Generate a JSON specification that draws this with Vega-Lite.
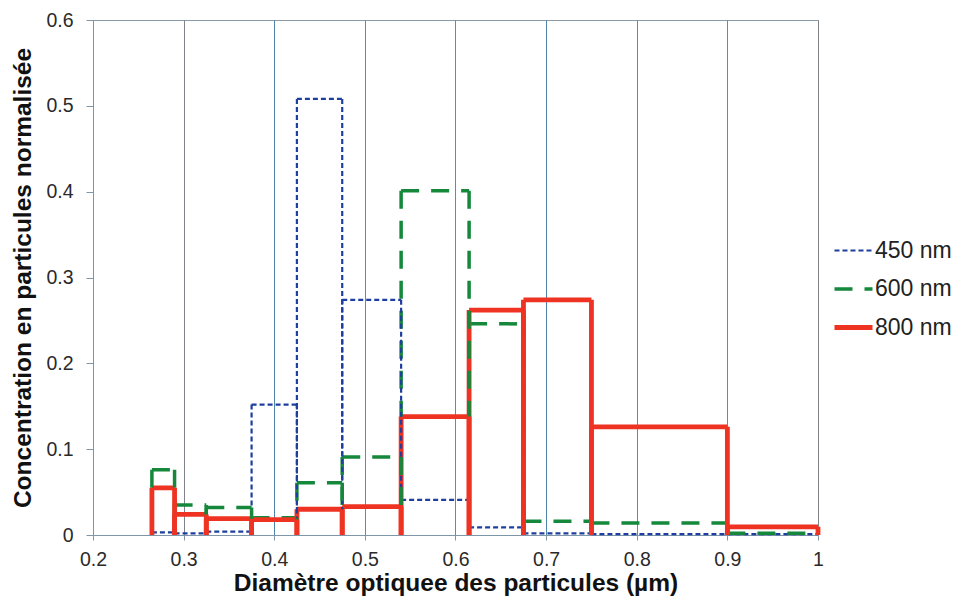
{
  "$schema": "https://vega.github.io/schema/vega-lite/v6.json",
  "autosize": "none",
  "width": 725,
  "height": 515,
  "padding": {"left": 93, "top": 20, "right": 140, "bottom": 67},
  "background": "white",
  "config": {
    "font": "Liberation Sans",
    "view": {"stroke": "#8a9aa8", "strokeWidth": 1},
    "axis": {
      "labelFont": "Liberation Sans",
      "titleFont": "Liberation Sans",
      "labelFontSize": 19.5,
      "labelColor": "#2a2a2a",
      "titleFontSize": 24.5,
      "titleFontWeight": "bold",
      "titleColor": "#111111",
      "domainColor": "#7f96a8",
      "tickColor": "#7f96a8",
      "tickSize": 6,
      "labelFlush": false,
      "labelOverlap": false
    },
    "legend": {
      "labelFont": "Liberation Sans",
      "labelFontSize": 23,
      "labelColor": "#222222"
    }
  },
  "data": {
    "values": [
      {"series": "450 nm", "x0": 0.265, "x1": 0.29, "value": 0.003},
      {"series": "450 nm", "x0": 0.29, "x1": 0.325, "value": 0.002},
      {"series": "450 nm", "x0": 0.325, "x1": 0.375, "value": 0.004},
      {"series": "450 nm", "x0": 0.375, "x1": 0.425, "value": 0.152},
      {"series": "450 nm", "x0": 0.425, "x1": 0.475, "value": 0.508},
      {"series": "450 nm", "x0": 0.475, "x1": 0.54, "value": 0.274},
      {"series": "450 nm", "x0": 0.54, "x1": 0.615, "value": 0.041},
      {"series": "450 nm", "x0": 0.615, "x1": 0.675, "value": 0.009},
      {"series": "450 nm", "x0": 0.675, "x1": 0.75, "value": 0.002},
      {"series": "450 nm", "x0": 0.75, "x1": 0.9, "value": 0.001},
      {"series": "450 nm", "x0": 0.9, "x1": 1.0, "value": 0.001},
      {"series": "600 nm", "x0": 0.265, "x1": 0.29, "value": 0.076},
      {"series": "600 nm", "x0": 0.29, "x1": 0.325, "value": 0.035},
      {"series": "600 nm", "x0": 0.325, "x1": 0.375, "value": 0.032},
      {"series": "600 nm", "x0": 0.375, "x1": 0.425, "value": 0.02},
      {"series": "600 nm", "x0": 0.425, "x1": 0.475, "value": 0.061},
      {"series": "600 nm", "x0": 0.475, "x1": 0.54, "value": 0.091},
      {"series": "600 nm", "x0": 0.54, "x1": 0.615, "value": 0.401},
      {"series": "600 nm", "x0": 0.615, "x1": 0.675, "value": 0.246},
      {"series": "600 nm", "x0": 0.675, "x1": 0.75, "value": 0.016},
      {"series": "600 nm", "x0": 0.75, "x1": 0.9, "value": 0.014},
      {"series": "600 nm", "x0": 0.9, "x1": 1.0, "value": 0.002},
      {"series": "800 nm", "x0": 0.265, "x1": 0.29, "value": 0.055},
      {"series": "800 nm", "x0": 0.29, "x1": 0.325, "value": 0.024},
      {"series": "800 nm", "x0": 0.325, "x1": 0.375, "value": 0.019},
      {"series": "800 nm", "x0": 0.375, "x1": 0.425, "value": 0.018},
      {"series": "800 nm", "x0": 0.425, "x1": 0.475, "value": 0.03},
      {"series": "800 nm", "x0": 0.475, "x1": 0.54, "value": 0.033},
      {"series": "800 nm", "x0": 0.54, "x1": 0.615, "value": 0.138},
      {"series": "800 nm", "x0": 0.615, "x1": 0.675, "value": 0.262},
      {"series": "800 nm", "x0": 0.675, "x1": 0.75, "value": 0.274},
      {"series": "800 nm", "x0": 0.75, "x1": 0.9, "value": 0.126},
      {"series": "800 nm", "x0": 0.9, "x1": 1.0, "value": 0.0095}
    ]
  },
  "encoding": {
    "stroke": {
      "field": "series", "type": "nominal", "title": null,
      "scale": {"domain": ["450 nm", "600 nm", "800 nm"], "range": ["#1f3f9e", "#15883c", "#ef3323"]},
      "legend": {"orient": "none", "legendX": 739, "legendY": 210, "symbolType": "stroke", "symbolSize": 1444, "rowPadding": 5, "labelOffset": 0}
    },
    "strokeDash": {
      "field": "series", "type": "nominal", "title": null,
      "scale": {"domain": ["450 nm", "600 nm", "800 nm"], "range": [[5, 3], [18, 12], [1, 0]]}
    },
    "strokeWidth": {
      "field": "series", "type": "ordinal", "title": null,
      "scale": {"domain": ["450 nm", "600 nm", "800 nm"], "range": [2.2, 4.8, 5.5]}
    }
  },
  "layer": [
    {
      "mark": {"type": "rule", "strokeCap": "butt"},
      "encoding": {
        "x": {
          "field": "x0", "type": "quantitative",
          "scale": {"domain": [0.2, 1.0], "nice": false, "zero": false},
          "axis": {
            "title": "Diamètre optiquee des particules (µm)",
            "values": [0.2, 0.3, 0.4, 0.5, 0.6, 0.7, 0.8, 0.9, 1.0],
            "format": "~g",
            "grid": true,
            "gridColor": {"condition": {"test": "abs(datum.value - 0.4) < 0.001 || abs(datum.value - 0.7) < 0.001", "value": "#4f86ad"}, "value": "#7f8389"},
            "gridOpacity": 1,
            "gridWidth": 1,
            "tickSize": 5,
            "labelPadding": 10,
            "titlePadding": 3
          }
        },
        "x2": {"field": "x1"},
        "y": {
          "field": "value", "type": "quantitative",
          "scale": {"domain": [0, 0.6], "nice": false},
          "axis": {
            "title": "Concentration en particules normalisée",
            "values": [0, 0.1, 0.2, 0.3, 0.4, 0.5, 0.6],
            "format": "~g",
            "grid": false,
            "tickSize": 7,
            "labelPadding": 13,
            "titlePadding": 10
          }
        }
      }
    },
    {
      "mark": {"type": "rule", "strokeCap": "butt"},
      "encoding": {
        "x": {"field": "x0", "type": "quantitative"},
        "y": {"field": "value", "type": "quantitative"},
        "y2": {"datum": 0}
      }
    },
    {
      "mark": {"type": "rule", "strokeCap": "butt"},
      "encoding": {
        "x": {"field": "x1", "type": "quantitative"},
        "y": {"field": "value", "type": "quantitative"},
        "y2": {"datum": 0}
      }
    }
  ]
}
